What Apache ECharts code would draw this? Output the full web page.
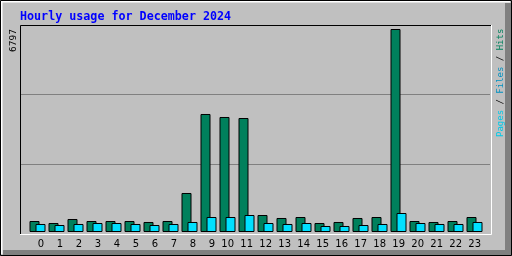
<!DOCTYPE html>
<html>
<head>
<meta charset="utf-8">
<script src="https://cdn.jsdelivr.net/npm/echarts@6/dist/echarts.min.js"></script>
<style>html,body{margin:0;padding:0;background:#C0C0C0;}#c{width:512px;height:256px;}</style>
</head>
<body>
<div id="c"></div>
<script>
const hours = ['0','1','2','3','4','5','6','7','8','9','10','11','12','13','14','15','16','17','18','19','20','21','22','23'];
const hits  = [368,301,435,368,368,368,335,368,1306,3951,3851,3817,569,469,502,301,335,469,502,6797,368,335,368,502];
const pages = [268,234,268,301,301,268,234,268,335,502,502,569,301,268,301,201,201,234,268,636,301,268,268,335];
const maxValue = 6797;
const titleText = 'Hourly usage for December 2024';

const chart = echarts.init(document.getElementById('c'), null, {renderer:'canvas'});
const z = 100;
chart.setOption({
  backgroundColor: '#C0C0C0',
  animation: false,
  title: {
    text: titleText, left: 15, top: 6,
    textStyle: {fontFamily: 'DejaVu Sans Mono', fontWeight: 'bold', fontSize: 11.7, color: '#0000FF'}
  },
  grid: [
    {left: 28, width: 456, top: 29, height: 203},
    {left: 34.5, width: 456, top: 29, height: 203},
    {left: 21, width: 469, top: 25, height: 209}
  ],
  xAxis: [
    {type: 'category', gridIndex: 0, data: hours, show: false},
    {type: 'category', gridIndex: 1, data: hours,
     axisLine: {show: false}, axisTick: {show: false},
     axisLabel: {align: 'right', margin: 7, interval: 0, fontFamily: 'DejaVu Sans', fontSize: 10, color: '#000'}},
    {type: 'value', gridIndex: 2, show: false}
  ],
  yAxis: [
    {type: 'value', gridIndex: 0, min: 0, max: maxValue, interval: maxValue,
     axisLine: {show: false}, axisTick: {show: false}, splitLine: {show: false},
     axisLabel: {rotate: 90, align: 'right', verticalAlign: 'middle', margin: 14,
       fontFamily: 'DejaVu Sans Mono', fontSize: 9.5, color: '#000',
       formatter: v => v === maxValue ? String(v) : ''}},
    {type: 'value', gridIndex: 1, show: false},
    {type: 'value', gridIndex: 2, min: 0, max: 3, interval: 1,
     axisLine: {show: false}, axisTick: {show: false}, axisLabel: {show: false},
     splitLine: {show: true, lineStyle: {color: '#808080', width: 1}}}
  ],
  series: [
    {name: 'Hits', type: 'bar', xAxisIndex: 0, yAxisIndex: 0, data: hits,
     barWidth: 10, barGap: '-40%',
     itemStyle: {color: '#00805C', borderColor: '#000', borderWidth: 1}},
    {name: 'Pages', type: 'bar', xAxisIndex: 0, yAxisIndex: 0, data: pages,
     barWidth: 10, barGap: '-40%',
     itemStyle: {color: '#00E0FF', borderColor: '#000', borderWidth: 1}}
  ],
  graphic: [
    {type: 'rect', z: z, shape: {x: 505, y: 3, width: 6, height: 252}, style: {fill: '#808080'}},
    {type: 'rect', z: z, shape: {x: 3, y: 250, width: 508, height: 5}, style: {fill: '#808080'}},
    {type: 'polyline', z: z, shape: {points: [[1.5, 254], [1.5, 1.5], [510, 1.5]]}, style: {stroke: '#FFFFFF', lineWidth: 2, fill: null}},
    {type: 'rect', z: z, shape: {x: 0.5, y: 0.5, width: 511, height: 255}, style: {stroke: '#000', lineWidth: 1, fill: null}},
    {type: 'polyline', z: z, shape: {points: [[20.5, 234], [20.5, 25.5], [491, 25.5]]}, style: {stroke: '#000', lineWidth: 1, fill: null}},
    {type: 'polyline', z: z, shape: {points: [[20, 234.5], [491.5, 234.5], [491.5, 25]]}, style: {stroke: '#FFFFFF', lineWidth: 1, fill: null}},
    {type: 'text', z: z, x: 500.5, y: 137, rotation: Math.PI / 2,
     style: {text: '{p|Pages}{s| / }{f|Files}{s| / }{h|Hits}', align: 'left', verticalAlign: 'middle',
       font: '9px "DejaVu Sans Mono"',
       rich: {
         p: {fill: '#00C8E8', font: '9px "DejaVu Sans Mono"'},
         f: {fill: '#0090C0', font: '9px "DejaVu Sans Mono"'},
         h: {fill: '#00805C', font: '9px "DejaVu Sans Mono"'},
         s: {fill: '#000000', font: '9px "DejaVu Sans Mono"'}
       }}}
  ]
});
</script>
</body>
</html>
